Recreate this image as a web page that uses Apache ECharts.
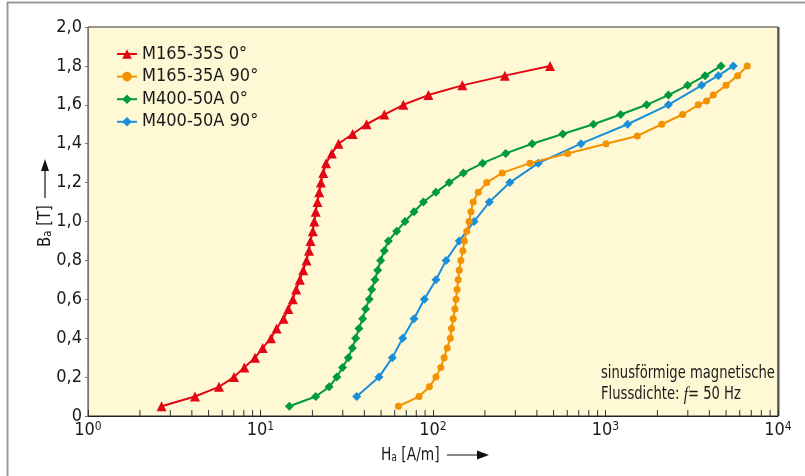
<!DOCTYPE html>
<html>
<head>
<meta charset="utf-8">
<script src="https://cdn.jsdelivr.net/npm/echarts@6/dist/echarts.min.js"></script>
<style>
html,body{margin:0;padding:0;background:#fff;}
#chart{width:805px;height:476px;}
</style>
</head>
<body>
<div id="chart"></div>
<script>
// ---- data ----
const seriesNames = ['M165-35S 0°', 'M165-35A 90°', 'M400-50A 0°', 'M400-50A 90°'];

const H_M165_35S_0 = [2.67,4.17,5.74,7.02,8.06,9.29,10.3,11.5,12.4,13.6,14.5,15.4,16.1,16.9,17.7,18.5,19.1,19.5,20.1,20.5,20.9,21.4,21.9,22.4,23.1,24.0,25.9,28.3,34.2,41.2,52.2,67.3,94,148,261,477];
const B_M165_35S_0 = [0.05,0.1,0.15,0.2,0.25,0.3,0.35,0.4,0.45,0.5,0.55,0.6,0.65,0.7,0.75,0.8,0.85,0.9,0.95,1.0,1.05,1.1,1.15,1.2,1.25,1.3,1.35,1.4,1.45,1.5,1.55,1.6,1.65,1.7,1.75,1.8];

const H_M165_35A_90 = [63,83,95.3,104,111,116,121,126,128,131,134,136,138,140,142,145,149,152,157,162,166,171,183,205,252,365,603,1007,1529,2118,2800,3449,3855,4217,5000,5835,6637];
const B_M165_35A_90 = [0.05,0.1,0.15,0.2,0.25,0.3,0.35,0.4,0.45,0.5,0.55,0.6,0.65,0.7,0.75,0.8,0.85,0.9,0.95,1.0,1.05,1.1,1.15,1.2,1.25,1.3,1.35,1.4,1.44,1.5,1.55,1.6,1.62,1.65,1.7,1.75,1.8];

const H_M400_50A_0 = [14.7,20.9,25.0,27.7,29.9,32.3,34.1,35.6,37.2,39.1,40.7,42.7,44.1,46.1,47.8,49.7,52.2,55.1,61.6,68.8,77.6,88,104,124,150,194,264,376,565,851,1224,1733,2314,2994,3776,4674];
const B_M400_50A_0 = [0.05,0.1,0.15,0.2,0.25,0.3,0.35,0.4,0.45,0.5,0.55,0.6,0.65,0.7,0.75,0.8,0.85,0.9,0.95,1.0,1.05,1.1,1.15,1.2,1.25,1.3,1.35,1.4,1.45,1.5,1.55,1.6,1.65,1.7,1.75,1.8];

const H_M400_50A_90 = [36.1,48.6,58.1,66.7,77.6,89.1,104,119,142,173,212,279,408,721,1343,2314,3608,4508,5508];
const B_M400_50A_90 = [0.1,0.2,0.3,0.4,0.5,0.6,0.7,0.8,0.9,1.0,1.1,1.2,1.3,1.4,1.5,1.6,1.7,1.75,1.8];

const xMinorTicks = [2,3,4,5,6,7,8,9,20,30,40,50,60,70,80,90,200,300,400,500,600,700,800,900,2000,3000,4000,5000,6000,7000,8000,9000];

// ---- rendering ----
const FONT = '"DejaVu Sans Condensed","Liberation Sans Narrow","Roboto Condensed","Open Sans",sans-serif';
const zip = (h, b) => h.map((v, i) => [v, b[i]]);
const colors = ['#e30613', '#f39200', '#009a3e', '#1a8fd8'];
const symbols = ['triangle', 'circle', 'diamond', 'diamond'];
const symbolSizes = [10, 7, 9, 9];
const datasets = [
  zip(H_M165_35S_0, B_M165_35S_0),
  zip(H_M165_35A_90, B_M165_35A_90),
  zip(H_M400_50A_0, B_M400_50A_0),
  zip(H_M400_50A_90, B_M400_50A_90)
];

const chart = echarts.init(document.getElementById('chart'), null, {renderer: 'canvas'});

const lineSeries = datasets.map((d, i) => ({
  name: seriesNames[i],
  type: 'line',
  data: d,
  symbol: symbols[i],
  symbolSize: symbolSizes[i],
  showAllSymbol: true,
  lineStyle: {color: colors[i], width: 2},
  itemStyle: {color: colors[i]},
  z: 3 + (3 - i),
  animation: false
}));

const option = {
  animation: false,
  textStyle: {fontFamily: FONT},
  grid: {
    left: 88, right: 27, top: 27, bottom: 60,
    show: true, backgroundColor: '#fef8d5', borderColor: '#333', borderWidth: 1
  },
  legend: {
    data: seriesNames,
    orient: 'vertical',
    left: 111, top: 40,
    itemWidth: 20, itemHeight: 12, itemGap: 4.6,
    textStyle: {fontSize: 18, fontFamily: FONT, color: '#1a1a1a', lineHeight: 18}
  },
  xAxis: {
    type: 'log', logBase: 10, min: 1, max: 10000,
    axisLine: {show: true, lineStyle: {color: '#222', width: 1}},
    axisTick: {show: true, inside: true, length: 6, lineStyle: {color: '#333'}},
    splitLine: {show: false},
    axisLabel: {
      margin: 5,
      color: '#1a1a1a',
      formatter: v => '{b|10}{s|' + Math.round(Math.log10(v)) + '}',
      rich: {
        b: {fontSize: 18, fontFamily: FONT, color: '#1a1a1a'},
        s: {fontSize: 12, fontFamily: FONT, color: '#1a1a1a', verticalAlign: 'top', padding: [0, 0, 6, 0]}
      }
    }
  },
  yAxis: {
    type: 'value', min: 0, max: 2, interval: 0.2,
    axisLine: {show: true, lineStyle: {color: '#777', width: 1}},
    axisTick: {show: true, length: 3, lineStyle: {color: '#777'}},
    splitLine: {show: false},
    axisLabel: {
      margin: 6,
      fontSize: 18,
      fontFamily: FONT,
      color: '#1a1a1a',
      formatter: v => (Math.abs(v) < 1e-9 ? '0' : v.toFixed(1).replace('.', ','))
    }
  },
  series: lineSeries.concat([{
    type: 'custom',
    name: 'minorTicks',
    silent: true,
    clip: false,
    z: 2,
    data: xMinorTicks.map(v => [v, 0]),
    renderItem: (params, api) => {
      const p = api.coord([api.value(0), 0]);
      return {
        type: 'line',
        shape: {x1: p[0], y1: p[1], x2: p[0], y2: p[1] - 6},
        style: {stroke: '#333', lineWidth: 1}
      };
    }
  }]),
  graphic: [
    {type: 'line', shape: {x1: 7, y1: 2.5, x2: 805, y2: 2.5}, style: {stroke: '#9a9a9a', lineWidth: 2}, silent: true},
    {type: 'line', shape: {x1: 7.5, y1: 2, x2: 7.5, y2: 476}, style: {stroke: '#9a9a9a', lineWidth: 2}, silent: true},
    {type: 'line', shape: {x1: 778.5, y1: 27, x2: 778.5, y2: 416}, style: {stroke: '#555', lineWidth: 2}, silent: true},
    // y axis name
    {
      type: 'text', x: 45, y: 226, rotation: Math.PI / 2, scaleX: 0.92,
      style: {
        text: 'B{sub|a} [T]', align: 'center', verticalAlign: 'middle',
        fontSize: 18, fontFamily: FONT, fill: '#1a1a1a',
        rich: {sub: {fontSize: 12, fontFamily: FONT, verticalAlign: 'bottom', padding: [6, 0, 0, 0]}}
      }
    },
    {type: 'line', shape: {x1: 45, y1: 198, x2: 45, y2: 168}, style: {stroke: '#111', lineWidth: 1.2}},
    {type: 'polygon', shape: {points: [[41, 171], [49, 171], [45, 159]]}, style: {fill: '#111'}},
    // x axis name
    {
      type: 'text', x: 381, y: 455, scaleX: 0.85,
      style: {
        text: 'H{sub|a} [A/m]', align: 'left', verticalAlign: 'middle',
        fontSize: 18, fontFamily: FONT, fill: '#1a1a1a',
        rich: {sub: {fontSize: 12, fontFamily: FONT, verticalAlign: 'bottom', padding: [6, 0, 0, 0]}}
      }
    },
    {type: 'line', shape: {x1: 447, y1: 455, x2: 480, y2: 455}, style: {stroke: '#111', lineWidth: 1.2}},
    {type: 'polygon', shape: {points: [[477, 450.5], [477, 459.5], [489, 455]]}, style: {fill: '#111'}},
    // annotation
    {
      type: 'text', x: 601, y: 374, scaleX: 0.86,
      style: {
        text: 'sinusförmige magnetische', align: 'left', verticalAlign: 'middle',
        fontSize: 17, fontFamily: FONT, fill: '#1a1a1a'
      }
    },
    {
      type: 'text', x: 601, y: 395, scaleX: 0.86,
      style: {
        text: 'Flussdichte: {i|f}= 50 Hz', align: 'left', verticalAlign: 'middle',
        fontSize: 17, fontFamily: FONT, fill: '#1a1a1a',
        rich: {i: {fontSize: 18, fontStyle: 'italic', fontFamily: '"Liberation Serif","DejaVu Serif",serif', fill: '#1a1a1a'}}
      }
    }
  ]
};
chart.setOption(option);
</script>
</body>
</html>
